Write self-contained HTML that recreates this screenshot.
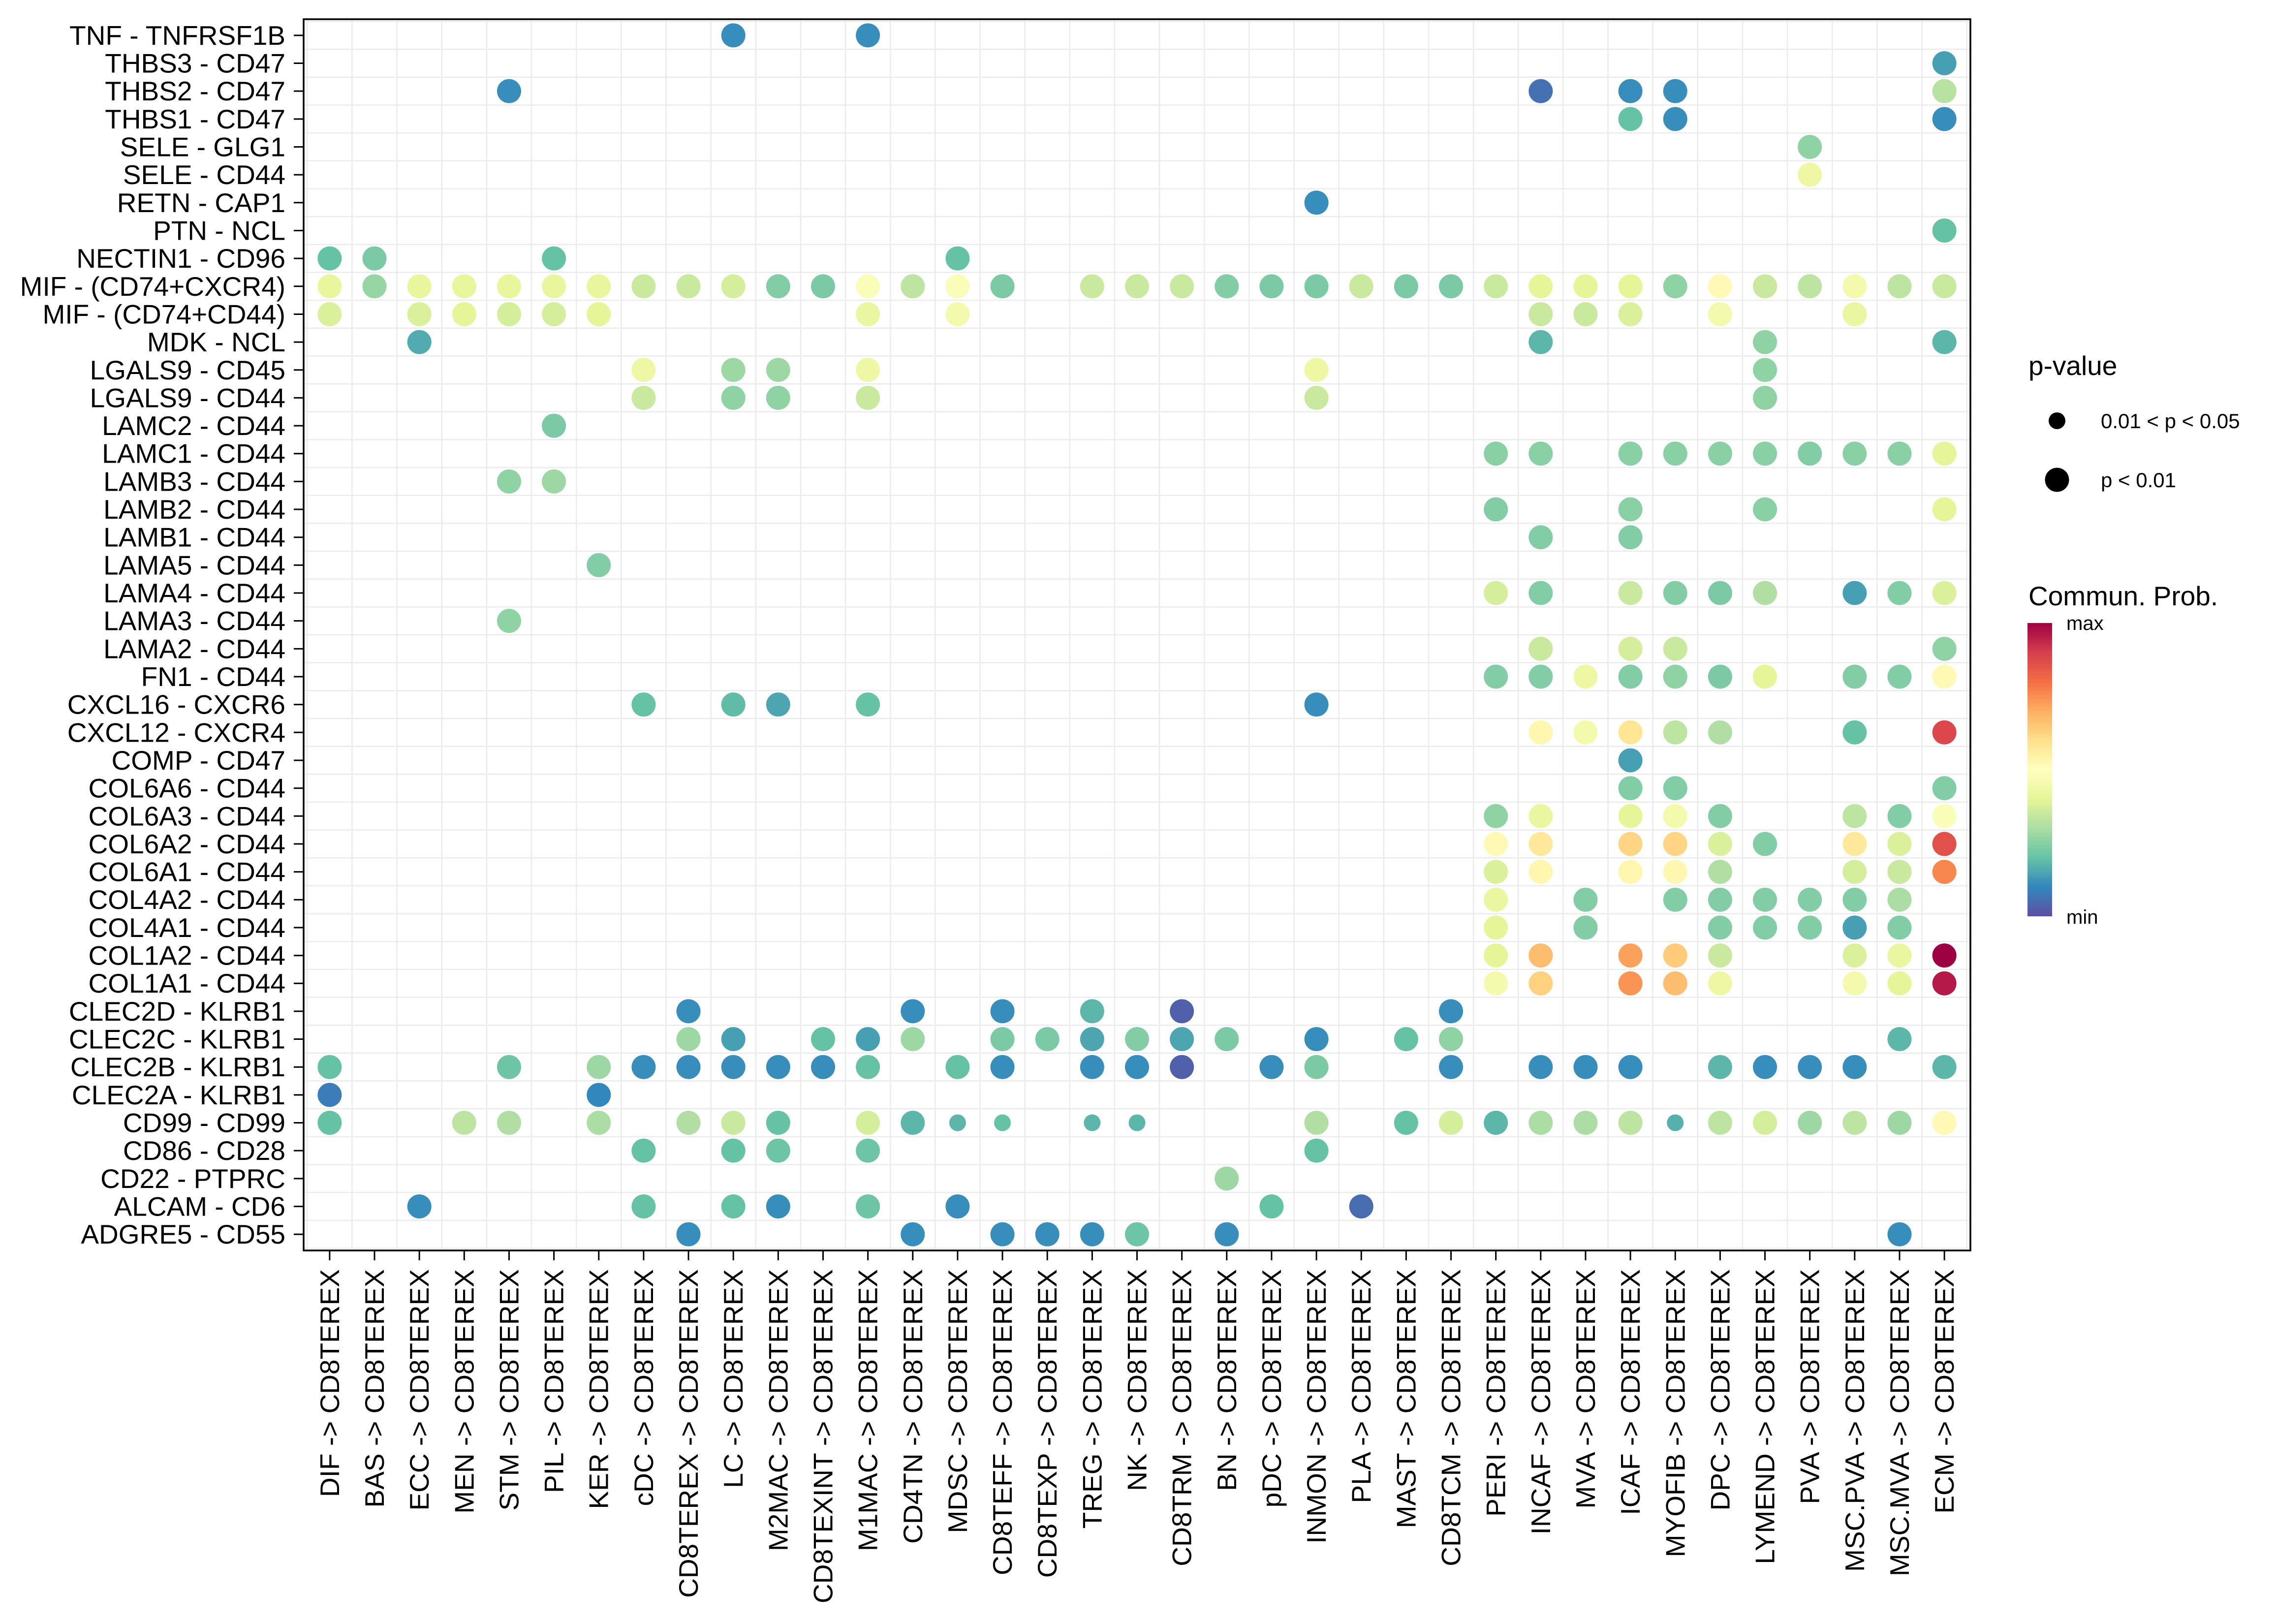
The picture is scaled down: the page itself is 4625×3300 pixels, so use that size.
<!DOCTYPE html>
<html><head><meta charset="utf-8"><style>
html,body{margin:0;padding:0;background:#fff;}
svg{display:block;font-family:"Liberation Sans",Arial,sans-serif;}
</style></head><body>
<svg id="chart" xmlns="http://www.w3.org/2000/svg" width="4625" height="3300" viewBox="0 0 4625 3300">
<defs>
<linearGradient id="spec" x1="0" y1="1" x2="0" y2="0">
<stop offset="0" stop-color="#5E4FA2"/><stop offset="0.1" stop-color="#3288BD"/><stop offset="0.2" stop-color="#66C2A5"/><stop offset="0.3" stop-color="#ABDDA4"/><stop offset="0.4" stop-color="#E6F598"/><stop offset="0.5" stop-color="#FFFFBF"/><stop offset="0.6" stop-color="#FEE08B"/><stop offset="0.7" stop-color="#FDAE61"/><stop offset="0.8" stop-color="#F46D43"/><stop offset="0.9" stop-color="#D53E4F"/><stop offset="1" stop-color="#9E0142"/>
</linearGradient>
</defs>
<rect x="0" y="0" width="4625" height="3300" fill="#fff"/>
<g id="grid"></g>
<g id="dots"></g>
<rect x="617" y="39" width="3387" height="2502" fill="none" stroke="#000" stroke-width="3.5"/>
<g id="yaxis"></g>
<g id="xaxis"></g>
<g>
<text x="4122" y="762" font-size="55">p-value</text>
<circle cx="4180" cy="855" r="17" fill="#000"/>
<text x="4269" y="870" font-size="42">0.01 &lt; p &lt; 0.05</text>
<circle cx="4180" cy="975" r="24.5" fill="#000"/>
<text x="4269" y="990" font-size="42">p &lt; 0.01</text>
</g>
<g>
<text x="4122" y="1230" font-size="55">Commun. Prob.</text>
<rect x="4120" y="1266" width="50" height="596" fill="url(#spec)"/>
<text x="4199" y="1280" font-size="40">max</text>
<text x="4199" y="1877" font-size="40">min</text>
</g>
</svg>
<script>
const rowLabels = ["TNF - TNFRSF1B","THBS3 - CD47","THBS2 - CD47","THBS1 - CD47","SELE - GLG1","SELE - CD44","RETN - CAP1","PTN - NCL","NECTIN1 - CD96","MIF - (CD74+CXCR4)","MIF - (CD74+CD44)","MDK - NCL","LGALS9 - CD45","LGALS9 - CD44","LAMC2 - CD44","LAMC1 - CD44","LAMB3 - CD44","LAMB2 - CD44","LAMB1 - CD44","LAMA5 - CD44","LAMA4 - CD44","LAMA3 - CD44","LAMA2 - CD44","FN1 - CD44","CXCL16 - CXCR6","CXCL12 - CXCR4","COMP - CD47","COL6A6 - CD44","COL6A3 - CD44","COL6A2 - CD44","COL6A1 - CD44","COL4A2 - CD44","COL4A1 - CD44","COL1A2 - CD44","COL1A1 - CD44","CLEC2D - KLRB1","CLEC2C - KLRB1","CLEC2B - KLRB1","CLEC2A - KLRB1","CD99 - CD99","CD86 - CD28","CD22 - PTPRC","ALCAM - CD6","ADGRE5 - CD55"];
const sources = ["DIF","BAS","ECC","MEN","STM","PIL","KER","cDC","CD8TEREX","LC","M2MAC","CD8TEXINT","M1MAC","CD4TN","MDSC","CD8TEFF","CD8TEXP","TREG","NK","CD8TRM","BN","pDC","INMON","PLA","MAST","CD8TCM","PERI","INCAF","MVA","ICAF","MYOFIB","DPC","LYMEND","PVA","MSC.PVA","MSC.MVA","ECM"];
const target = "CD8TEREX";
const rowSources = {
"TNF - TNFRSF1B":["LC","M1MAC"],
"THBS3 - CD47":["ECM"],
"THBS2 - CD47":["STM","INCAF","ICAF","MYOFIB","ECM"],
"THBS1 - CD47":["ICAF","MYOFIB","ECM"],
"SELE - GLG1":["PVA"],
"SELE - CD44":["PVA"],
"RETN - CAP1":["INMON"],
"PTN - NCL":["ECM"],
"NECTIN1 - CD96":["DIF","BAS","PIL","MDSC"],
"MIF - (CD74+CXCR4)":["DIF","BAS","ECC","MEN","STM","PIL","KER","cDC","CD8TEREX","LC","M2MAC","CD8TEXINT","M1MAC","CD4TN","MDSC","CD8TEFF","TREG","NK","CD8TRM","BN","pDC","INMON","PLA","MAST","CD8TCM","PERI","INCAF","MVA","ICAF","MYOFIB","DPC","LYMEND","PVA","MSC.PVA","MSC.MVA","ECM"],
"MIF - (CD74+CD44)":["DIF","ECC","MEN","STM","PIL","KER","M1MAC","MDSC","INCAF","MVA","ICAF","DPC","MSC.PVA"],
"MDK - NCL":["ECC","INCAF","LYMEND","ECM"],
"LGALS9 - CD45":["cDC","LC","M2MAC","M1MAC","INMON","LYMEND"],
"LGALS9 - CD44":["cDC","LC","M2MAC","M1MAC","INMON","LYMEND"],
"LAMC2 - CD44":["PIL"],
"LAMC1 - CD44":["PERI","INCAF","ICAF","MYOFIB","DPC","LYMEND","PVA","MSC.PVA","MSC.MVA","ECM"],
"LAMB3 - CD44":["STM","PIL"],
"LAMB2 - CD44":["PERI","ICAF","LYMEND","ECM"],
"LAMB1 - CD44":["INCAF","ICAF"],
"LAMA5 - CD44":["KER"],
"LAMA4 - CD44":["PERI","INCAF","ICAF","MYOFIB","DPC","LYMEND","MSC.PVA","MSC.MVA","ECM"],
"LAMA3 - CD44":["STM"],
"LAMA2 - CD44":["INCAF","ICAF","MYOFIB","ECM"],
"FN1 - CD44":["PERI","INCAF","MVA","ICAF","MYOFIB","DPC","LYMEND","MSC.PVA","MSC.MVA","ECM"],
"CXCL16 - CXCR6":["cDC","LC","M2MAC","M1MAC","INMON"],
"CXCL12 - CXCR4":["INCAF","MVA","ICAF","MYOFIB","DPC","MSC.PVA","ECM"],
"COMP - CD47":["ICAF"],
"COL6A6 - CD44":["ICAF","MYOFIB","ECM"],
"COL6A3 - CD44":["PERI","INCAF","ICAF","MYOFIB","DPC","MSC.PVA","MSC.MVA","ECM"],
"COL6A2 - CD44":["PERI","INCAF","ICAF","MYOFIB","DPC","LYMEND","MSC.PVA","MSC.MVA","ECM"],
"COL6A1 - CD44":["PERI","INCAF","ICAF","MYOFIB","DPC","MSC.PVA","MSC.MVA","ECM"],
"COL4A2 - CD44":["PERI","MVA","MYOFIB","DPC","LYMEND","PVA","MSC.PVA","MSC.MVA"],
"COL4A1 - CD44":["PERI","MVA","DPC","LYMEND","PVA","MSC.PVA","MSC.MVA"],
"COL1A2 - CD44":["PERI","INCAF","ICAF","MYOFIB","DPC","MSC.PVA","MSC.MVA","ECM"],
"COL1A1 - CD44":["PERI","INCAF","ICAF","MYOFIB","DPC","MSC.PVA","MSC.MVA","ECM"],
"CLEC2D - KLRB1":["CD8TEREX","CD4TN","CD8TEFF","TREG","CD8TRM","CD8TCM"],
"CLEC2C - KLRB1":["CD8TEREX","LC","CD8TEXINT","M1MAC","CD4TN","CD8TEFF","CD8TEXP","TREG","NK","CD8TRM","BN","INMON","MAST","CD8TCM","MSC.MVA"],
"CLEC2B - KLRB1":["DIF","STM","KER","cDC","CD8TEREX","LC","M2MAC","CD8TEXINT","M1MAC","MDSC","CD8TEFF","TREG","NK","CD8TRM","pDC","INMON","CD8TCM","INCAF","MVA","ICAF","DPC","LYMEND","PVA","MSC.PVA","ECM"],
"CLEC2A - KLRB1":["DIF","KER"],
"CD99 - CD99":["DIF","MEN","STM","KER","CD8TEREX","LC","M2MAC","M1MAC","CD4TN","MDSC","CD8TEFF","TREG","NK","INMON","MAST","CD8TCM","PERI","INCAF","MVA","ICAF","MYOFIB","DPC","LYMEND","PVA","MSC.PVA","MSC.MVA","ECM"],
"CD86 - CD28":["cDC","LC","M2MAC","M1MAC","INMON"],
"CD22 - PTPRC":["BN"],
"ALCAM - CD6":["ECC","cDC","LC","M2MAC","M1MAC","MDSC","pDC","PLA"],
"ADGRE5 - CD55":["CD8TEREX","CD4TN","CD8TEFF","CD8TEXP","TREG","NK","BN","MSC.MVA"]
};
const rowValues = {
"TNF - TNFRSF1B":[0.11,0.11],
"THBS3 - CD47":[0.14],
"THBS2 - CD47":[0.11,0.06,0.11,0.11,0.32],
"THBS1 - CD47":[0.2,0.11,0.11],
"SELE - GLG1":[0.26],
"SELE - CD44":[0.43],
"RETN - CAP1":[0.11],
"PTN - NCL":[0.2],
"NECTIN1 - CD96":[0.2,0.23,0.2,0.2],
"MIF - (CD74+CXCR4)":[0.41,0.27,0.41,0.41,0.41,0.41,0.41,0.35,0.35,0.37,0.24,0.23,0.48,0.33,0.48,0.23,0.35,0.35,0.35,0.24,0.23,0.23,0.35,0.23,0.23,0.35,0.4,0.4,0.4,0.26,0.52,0.35,0.33,0.45,0.33,0.35],
"MIF - (CD74+CD44)":[0.38,0.38,0.4,0.37,0.37,0.4,0.42,0.45,0.35,0.35,0.38,0.45,0.42],
"MDK - NCL":[0.16,0.18,0.26,0.18],
"LGALS9 - CD45":[0.43,0.28,0.28,0.43,0.43,0.26],
"LGALS9 - CD44":[0.35,0.26,0.26,0.35,0.35,0.26],
"LAMC2 - CD44":[0.23],
"LAMC1 - CD44":[0.25,0.25,0.25,0.25,0.25,0.25,0.24,0.25,0.25,0.4],
"LAMB3 - CD44":[0.26,0.28],
"LAMB2 - CD44":[0.24,0.25,0.25,0.4],
"LAMB1 - CD44":[0.24,0.24],
"LAMA5 - CD44":[0.24],
"LAMA4 - CD44":[0.37,0.24,0.35,0.24,0.23,0.31,0.14,0.24,0.38],
"LAMA3 - CD44":[0.26],
"LAMA2 - CD44":[0.35,0.37,0.35,0.26],
"FN1 - CD44":[0.24,0.24,0.43,0.24,0.26,0.23,0.4,0.24,0.24,0.52],
"CXCL16 - CXCR6":[0.2,0.19,0.15,0.2,0.11],
"CXCL12 - CXCR4":[0.53,0.45,0.58,0.33,0.31,0.2,0.88],
"COMP - CD47":[0.14],
"COL6A6 - CD44":[0.24,0.24,0.24],
"COL6A3 - CD44":[0.26,0.42,0.4,0.45,0.24,0.33,0.24,0.48],
"COL6A2 - CD44":[0.52,0.57,0.62,0.62,0.38,0.24,0.57,0.38,0.86],
"COL6A1 - CD44":[0.38,0.53,0.53,0.53,0.31,0.37,0.35,0.76],
"COL4A2 - CD44":[0.42,0.24,0.24,0.24,0.24,0.24,0.24,0.3],
"COL4A1 - CD44":[0.4,0.24,0.24,0.24,0.24,0.14,0.24],
"COL1A2 - CD44":[0.4,0.67,0.72,0.64,0.35,0.38,0.42,1.0],
"COL1A1 - CD44":[0.45,0.63,0.74,0.67,0.43,0.45,0.4,0.96],
"CLEC2D - KLRB1":[0.11,0.11,0.11,0.18,0.03,0.11],
"CLEC2C - KLRB1":[0.28,0.14,0.2,0.14,0.28,0.23,0.23,0.15,0.24,0.15,0.23,0.11,0.2,0.26,0.18],
"CLEC2B - KLRB1":[0.2,0.21,0.28,0.11,0.11,0.11,0.11,0.11,0.2,0.2,0.11,0.11,0.11,0.03,0.11,0.23,0.11,0.11,0.11,0.11,0.18,0.11,0.11,0.11,0.18],
"CLEC2A - KLRB1":[0.08,0.1],
"CD99 - CD99":[0.2,0.33,0.31,0.3,0.31,0.35,0.2,0.37,0.18,0.18,0.2,0.18,0.18,0.31,0.2,0.37,0.18,0.3,0.3,0.33,0.17,0.33,0.37,0.28,0.33,0.28,0.52],
"CD86 - CD28":[0.2,0.2,0.21,0.21,0.2],
"CD22 - PTPRC":[0.28],
"ALCAM - CD6":[0.11,0.2,0.2,0.11,0.21,0.11,0.2,0.05],
"ADGRE5 - CD55":[0.11,0.11,0.11,0.11,0.11,0.21,0.11,0.11]
};
const smallDots = ["CD99 - CD99|MDSC","CD99 - CD99|CD8TEFF","CD99 - CD99|TREG","CD99 - CD99|NK","CD99 - CD99|MYOFIB"];

const NS = "http://www.w3.org/2000/svg";
const PX0 = 617, PX1 = 4004, PY0 = 39, PY1 = 2541;
const colStep = (PX1 - PX0) / (sources.length - 1 + 1.16);
const rowStep = (PY1 - PY0) / (rowLabels.length - 1 + 1.16);
function xScale(i){ return PX0 + colStep * (0.58 + i); }
function yScale(j){ return PY0 + rowStep * (0.58 + j); }
const stops = ["#5E4FA2","#3288BD","#66C2A5","#ABDDA4","#E6F598","#FFFFBF","#FEE08B","#FDAE61","#F46D43","#D53E4F","#9E0142"];
function hex2rgb(h){ return [parseInt(h.slice(1,3),16),parseInt(h.slice(3,5),16),parseInt(h.slice(5,7),16)]; }
function colorScale(v){
  v = Math.max(0, Math.min(1, v));
  const p = v * 10, k = Math.min(9, Math.floor(p)), t = p - k;
  const a = hex2rgb(stops[k]), b = hex2rgb(stops[k+1]);
  return "rgb(" + a.map((c,i)=>Math.round(c + (b[i]-c)*t)).join(",") + ")";
}
function mk(tag, attrs, parent){
  const el = document.createElementNS(NS, tag);
  for (const k in attrs) el.setAttribute(k, attrs[k]);
  parent.appendChild(el);
  return el;
}
const grid = document.getElementById("grid");
for (let i = 0; i <= sources.length; i++) {
  const x = xScale(i - 0.5);
  const ln = mk("line", {x1:x, x2:x, y1:PY0, y2:PY1, stroke:"#EBEBEB", "stroke-width":2.5}, grid);
  
  
}
for (let j = 0; j <= rowLabels.length; j++) {
  const y = yScale(j - 0.5);
  const ln = mk("line", {x1:PX0, x2:PX1, y1:y, y2:y, stroke:"#EBEBEB", "stroke-width":2.5}, grid);
  
  
}
const yaxis = document.getElementById("yaxis");
rowLabels.forEach((lab, j) => {
  const y = yScale(j);
  const t = mk("line", {x1:597, x2:PX0, y1:y, y2:y, stroke:"#000", "stroke-width":3}, yaxis);
  
  
  const tx = mk("text", {x:580, y:y, "font-size":55, "text-anchor":"end", "dominant-baseline":"central"}, yaxis);
  tx.textContent = lab;
  
  
});
const xaxis = document.getElementById("xaxis");
sources.forEach((s, i) => {
  const x = xScale(i);
  const t = mk("line", {x1:x, x2:x, y1:PY1, y2:PY1 + 20, stroke:"#000", "stroke-width":3}, xaxis);
  
  
  const tx = mk("text", {x:0, y:0, "font-size":55, "text-anchor":"end", "dominant-baseline":"central", transform:"translate(" + x + "," + (PY1 + 38) + ") rotate(-90)"}, xaxis);
  tx.textContent = s + " -> " + target;
  
  
});
const dots = document.getElementById("dots");
rowLabels.forEach((lab, j) => {
  const srcs = rowSources[lab] || [], vals = rowValues[lab] || [];
  srcs.forEach((s, k) => {
    const i = sources.indexOf(s);
    if (i < 0) return;
    const small = smallDots.indexOf(lab + "|" + s) >= 0;
    const c = mk("circle", {cx:xScale(i), cy:yScale(j), r: small ? 17 : 24.5, fill: colorScale(vals[k])}, dots);
    
    
  });
});
</script>
</body></html>
